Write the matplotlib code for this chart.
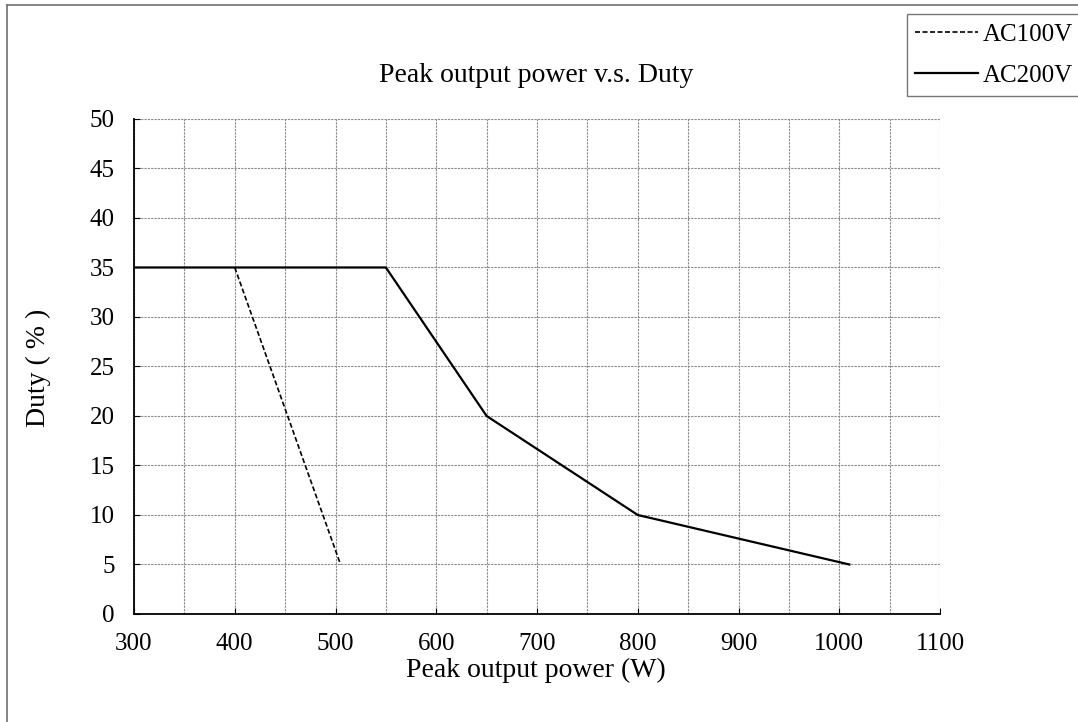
import matplotlib
matplotlib.use("Agg")
import matplotlib.pyplot as plt
from matplotlib.lines import Line2D

# AC100V / AC200V duty derating curves
power_100 = [400, 505]
duty_100 = [35, 5]

power_200 = [300, 550, 650, 800, 1010]
duty_200 = [35, 35, 20, 10, 5]

x_ticks = [300, 400, 500, 600, 700, 800, 900, 1000, 1100]
y_ticks = [0, 5, 10, 15, 20, 25, 30, 35, 40, 45, 50]

plt.rcParams["font.family"] = ["Liberation Serif", "DejaVu Serif"]
FS = 18
FS_LABEL = 20

fig = plt.figure(figsize=(10.78, 7.22), dpi=100)
ax = fig.add_axes([0.1243, 0.1496, 0.872 - 0.1243, 0.8352 - 0.1496])

ax.plot(power_100, duty_100, color="black", lw=1.2, ls=(0, (3, 1.5)), label="AC100V")
ax.plot(power_200, duty_200, color="black", lw=1.6, label="AC200V")

ax.set_xlim(300, 1100)
ax.set_ylim(0, 50)
ax.set_xticks(x_ticks)
ax.set_yticks(y_ticks)
ax.set_xticks(range(350, 1100, 100), minor=True)
ax.tick_params(which="major", direction="in", length=4, labelsize=FS)
ax.tick_params(axis="x", which="major", pad=14)
ax.tick_params(axis="y", which="major", pad=14)
ax.tick_params(which="minor", length=0)
ax.grid(which="both", color="#8a8a8a", ls=(0, (2, 1)), lw=0.8)
ax.set_axisbelow(True)
for side in ("top", "right"):
    ax.spines[side].set_visible(False)
for side in ("left", "bottom"):
    ax.spines[side].set_linewidth(1.3)

fig.text(0.497, 0.896, "Peak output power v.s. Duty", ha="center", va="center", fontsize=FS_LABEL)
fig.text(0.497, 0.072, "Peak output power (W)", ha="center", va="center", fontsize=FS_LABEL)
fig.text(0.036, 0.49, "Duty ( % )", ha="center", va="center", rotation=90, fontsize=FS_LABEL)

# outer frame (only top and left visible in the reference)
fig.add_artist(Line2D([0.0065, 0.0065], [0, 0.993], transform=fig.transFigure, color="#707070", lw=1.2))
fig.add_artist(Line2D([0.0065, 1.0], [0.993, 0.993], transform=fig.transFigure, color="#707070", lw=1.2))

leg = fig.legend(loc="upper left", bbox_to_anchor=(0.841, 0.98), fontsize=FS,
                 frameon=True, fancybox=False, edgecolor="#555555",
                 handlelength=2.5, handletextpad=0.2, borderpad=0.35,
                 labelspacing=0.75, borderaxespad=0)
leg.get_frame().set_linewidth(1.0)

fig.savefig("out.png", dpi=100)
